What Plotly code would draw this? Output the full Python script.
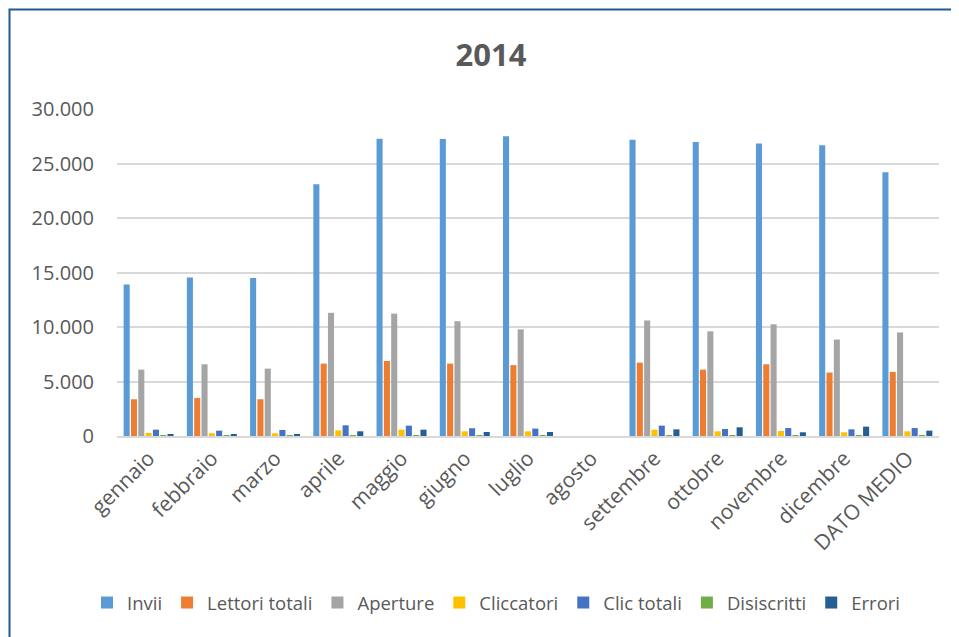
"""
Newsletter statistics 2014 - grouped column chart (Excel style).
"""

import plotly.graph_objects as go

# ---------------------------------------------------------------------------
# Data
# ---------------------------------------------------------------------------

MONTHS = [
    "gennaio", "febbraio", "marzo", "aprile", "maggio", "giugno", "luglio",
    "agosto", "settembre", "ottobre", "novembre", "dicembre", "DATO MEDIO",
]

INVII = [13890, 14530, 14500, 23090, 27280, 27250, 27500, 0, 27190, 26970, 26830, 26670, 24190]
LETTORI_TOTALI = [3370, 3490, 3370, 6640, 6880, 6640, 6500, 0, 6730, 6090, 6580, 5820, 5880]
APERTURE = [6090, 6580, 6180, 11300, 11230, 10530, 9780, 0, 10600, 9600, 10250, 8850, 9500]
CLICCATORI = [280, 250, 250, 520, 580, 430, 430, 0, 580, 430, 460, 340, 430]
CLIC_TOTALI = [580, 490, 550, 980, 950, 710, 680, 0, 950, 640, 730, 610, 730]
DISISCRITTI = [15, 15, 15, 20, 20, 15, 15, 0, 20, 15, 15, 15, 15]
ERRORI = [180, 180, 150, 430, 580, 370, 370, 0, 610, 800, 340, 860, 490]

SERIES = [
    ("Invii", INVII, "#5B9BD5"),
    ("Lettori totali", LETTORI_TOTALI, "#ED7D31"),
    ("Aperture", APERTURE, "#A5A5A5"),
    ("Cliccatori", CLICCATORI, "#FFC000"),
    ("Clic totali", CLIC_TOTALI, "#4472C4"),
    ("Disiscritti", DISISCRITTI, "#70AD47"),
    ("Errori", ERRORI, "#255E91"),
]

# ---------------------------------------------------------------------------
# Layout constants (page has an 8px body margin, so the figure is offset)
# ---------------------------------------------------------------------------

OFF = 8
W, H = 959 - OFF, 637 - OFF
M_L, M_R, M_T, M_B = 117 - OFF, 20, 109 - OFF, 201
TEXT_COLOR = "#595959"
GRID_COLOR = "#D9D9D9"
FONT = "Open Sans"

fig = go.Figure()

for name, values, color in SERIES:
    fig.add_trace(
        go.Bar(
            x=MONTHS,
            y=values,
            name=name,
            marker=dict(color=color, line=dict(width=0)),
        )
    )

# chart-area border (Excel frame), placed in pixels converted to paper coords
plot_w = W - M_L - M_R
plot_h = H - M_T - M_B
frame_left = (9.5 - OFF - M_L) / plot_w
frame_top = (H - M_B - (9.5 - OFF)) / plot_h

fig.add_shape(
    type="rect",
    xref="paper", yref="paper",
    x0=frame_left, x1=1.2, y0=-0.8, y1=frame_top,
    line=dict(color="#1F5A96", width=2),
    fillcolor="rgba(0,0,0,0)",
    layer="below",
)

fig.update_layout(
    width=W,
    height=H,
    barmode="group",
    bargap=0.19,
    bargroupgap=0.17,
    separators=",.",
    paper_bgcolor="white",
    plot_bgcolor="white",
    font=dict(family=FONT, color=TEXT_COLOR),
    margin=dict(l=M_L, r=M_R, t=M_T, b=M_B),
    title=dict(
        text="<b>2014</b>",
        x=(491 - OFF) / W,
        xref="container",
        xanchor="center",
        y=1 - (55 - OFF) / H,
        yref="container",
        yanchor="middle",
        font=dict(size=31, color=TEXT_COLOR, family=FONT),
    ),
    legend=dict(
        orientation="h",
        x=(496 - OFF) / W,
        xref="container",
        xanchor="center",
        y=1 - (603 - OFF) / H,
        yref="container",
        yanchor="middle",
        font=dict(size=18.5, color=TEXT_COLOR),
        itemwidth=30,
        traceorder="normal",
    ),
    xaxis=dict(
        tickangle=-45,
        tickfont=dict(size=21, color=TEXT_COLOR),
        showline=True,
        linecolor=GRID_COLOR,
        linewidth=1.5,
        showgrid=False,
        ticks="",
    ),
    yaxis=dict(
        range=[0, 30000],
        dtick=5000,
        tickformat=",",
        tickfont=dict(size=20, color=TEXT_COLOR),
        showgrid=True,
        gridcolor=GRID_COLOR,
        gridwidth=1.5,
        zeroline=False,
        ticklabelstandoff=22,
    ),
)

fig.write_html("out.html")
